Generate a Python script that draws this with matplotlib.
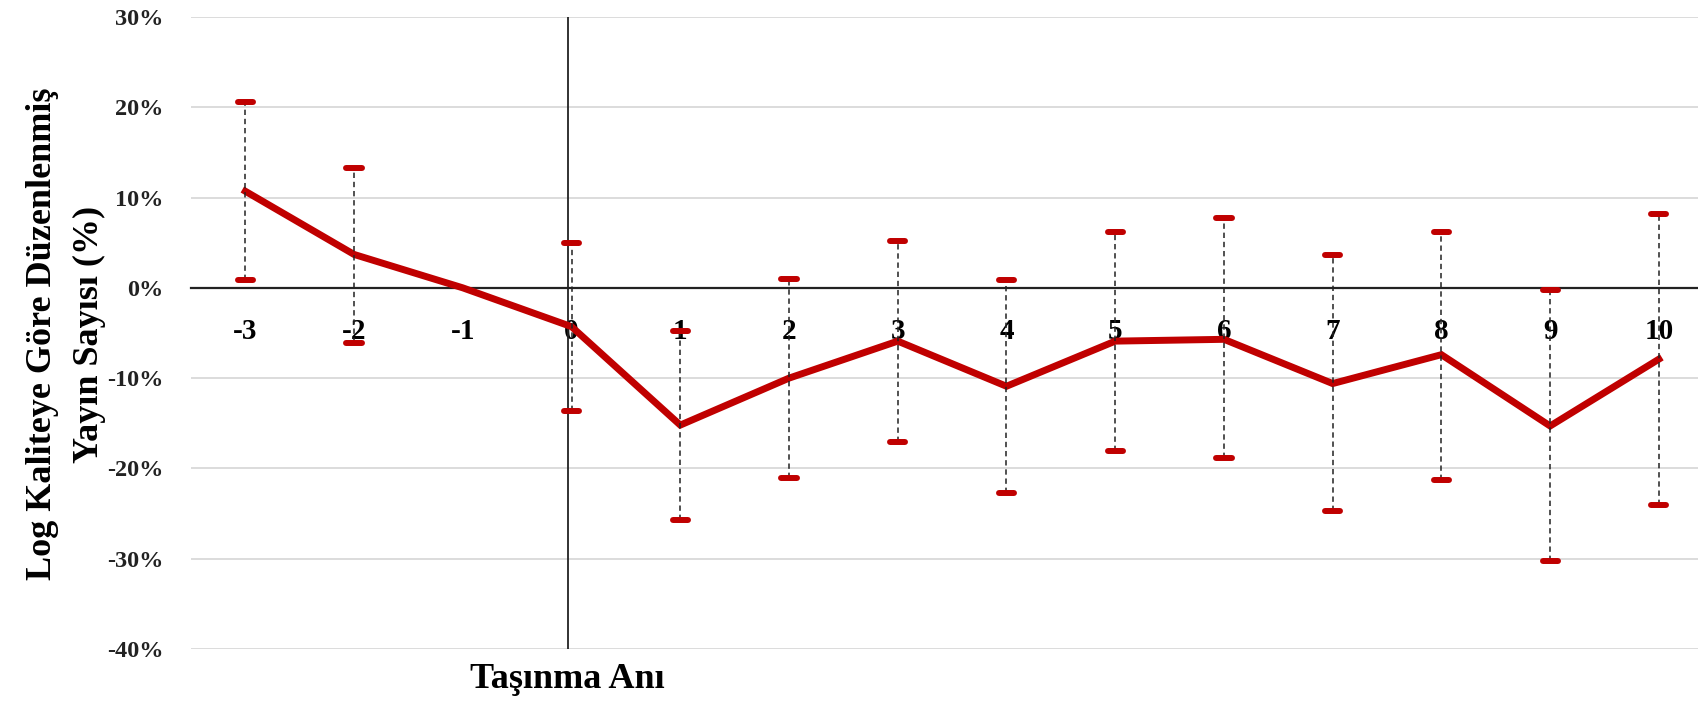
import matplotlib
matplotlib.use("Agg")
import matplotlib.pyplot as plt
import numpy as np

# years relative to the move (Taşınma Anı = 0)
years = [-3, -2, -1, 0, 1, 2, 3, 4, 5, 6, 7, 8, 9, 10]
# estimated effect (%)
effect = [10.7, 3.7, 0.0, -4.3, -15.2, -10.0, -5.9, -10.9, -5.9, -5.7, -10.6, -7.4, -15.3, -7.9]
# confidence interval bounds (%), -1 is the reference year
ci_low = [0.9, -6.1, np.nan, -13.6, -25.7, -21.1, -17.1, -22.7, -18.1, -18.9, -24.7, -21.3, -30.3, -24.0]
ci_high = [20.6, 13.3, np.nan, 5.0, -4.8, 1.0, 5.2, 0.9, 6.2, 7.7, 3.6, 6.2, -0.2, 8.2]
yticks = [30, 20, 10, 0, -10, -20, -30, -40]

RED = "#c00000"
plt.rcParams['font.family'] = ['Liberation Serif', 'DejaVu Serif']
plt.rcParams['font.weight'] = 'bold'

fig = plt.figure(figsize=(16.98, 7.01), dpi=100)
ax = fig.add_axes([191 / 1698, 52 / 701, 1 - 191 / 1698, 632 / 701])

x = np.array(years, dtype=float)
lo = np.array(ci_low)
hi = np.array(ci_high)
ok = ~np.isnan(lo)

ax.plot(x, effect, color=RED, lw=5, solid_joinstyle='miter', zorder=3)
ax.vlines(x[ok], lo[ok], hi[ok], colors="#222222", linestyles=(0, (3.5, 2.5)), lw=1.1, zorder=4)
cap = 0.07
for arr in (lo, hi):
    ax.hlines(arr[ok], x[ok] - cap, x[ok] + cap, colors=RED, lw=4.3, capstyle='round', zorder=5)

# vertical marker for the moving year
ax.axvline(-0.03, color="#222222", lw=1.3, zorder=2)

ax.set_xlim(-3.5, 10.36)
ax.set_ylim(-40, 30)
ax.set_yticks(yticks)
ax.set_yticklabels([f"{v}%" for v in yticks])
ax.set_xticks(years)
ax.set_xticklabels([str(v) for v in years])
ax.grid(axis='y', color="#d9d9d9", lw=1.3)
ax.set_axisbelow(True)

for s in ('left', 'right', 'top'):
    ax.spines[s].set_visible(False)
ax.spines['bottom'].set_position(('data', 0))
ax.spines['bottom'].set_color("#222222")
ax.spines['bottom'].set_linewidth(1.6)
ax.spines['bottom'].set_zorder(2)

ax.tick_params(axis='x', length=0, pad=22, labelsize=21, colors='black')
ax.tick_params(axis='y', length=0, pad=20, labelsize=17.5, colors='#222222')

fig.text(66 / 1698, 1 - 334 / 701, "Log Kaliteye Göre Düzenlenmiş\nYayın Sayısı (%)",
         rotation=90, ha='center', va='center', multialignment='center',
         fontsize=26, fontweight='bold', linespacing=1.55)
fig.text(567 / 1698, 1 - 680 / 701, "Taşınma Anı", ha='center', va='center',
         fontsize=26, fontweight='bold')

fig.savefig("out.png", dpi=100)
